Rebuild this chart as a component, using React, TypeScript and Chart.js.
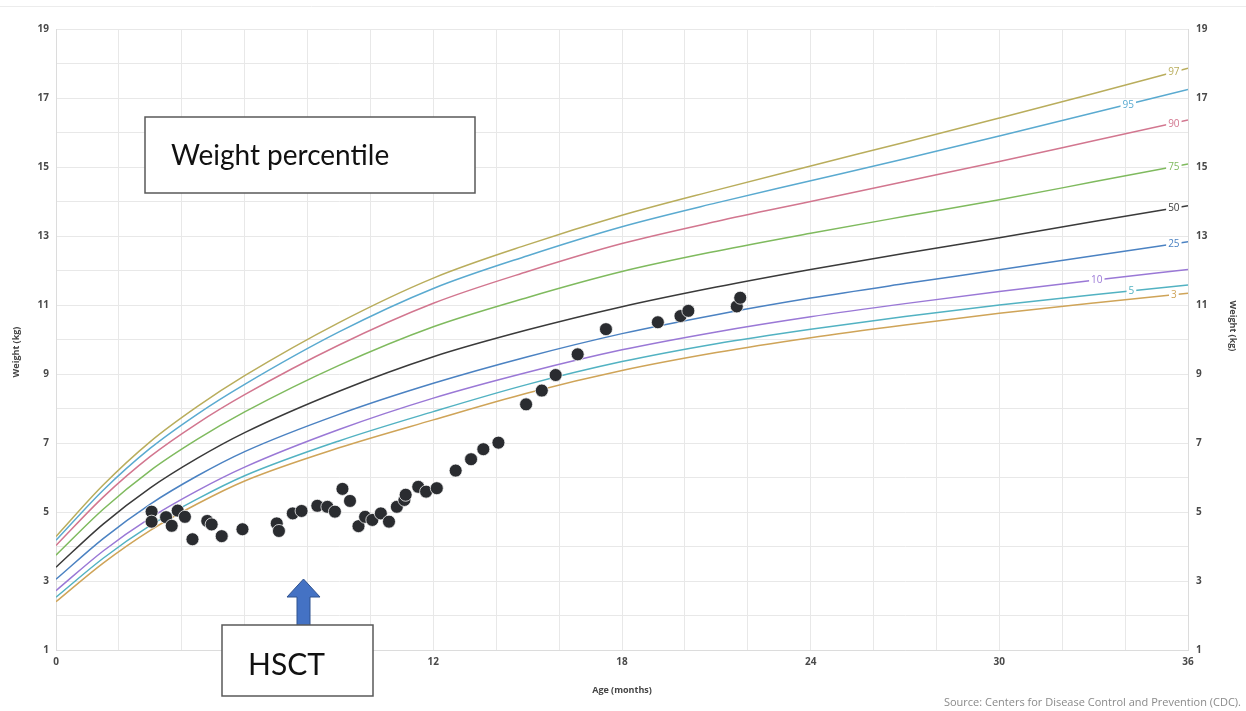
import React, { useEffect, useRef } from "react";
import { Chart, registerables } from "chart.js";

Chart.register(...registerables);

// Age (months) at which percentile curves are given
const ages = [0, 1.5, 3, 4.5, 6, 9, 12, 15, 18, 21, 24, 27, 30, 33, 36];
const p97 = [4.29, 5.78, 7.04, 8.06, 8.95, 10.49, 11.78, 12.75, 13.6, 14.33, 15.03, 15.72, 16.42, 17.13, 17.86];
const p95 = [4.18, 5.63, 6.85, 7.84, 8.7, 10.22, 11.48, 12.43, 13.27, 13.96, 14.6, 15.24, 15.9, 16.57, 17.25];
const p90 = [4.03, 5.43, 6.61, 7.57, 8.4, 9.84, 11.05, 11.97, 12.78, 13.42, 14.0, 14.58, 15.16, 15.76, 16.36];
const p75 = [3.75, 5.08, 6.2, 7.11, 7.9, 9.25, 10.37, 11.22, 11.97, 12.56, 13.08, 13.57, 14.05, 14.57, 15.09];
const p50 = [3.4, 4.65, 5.7, 6.56, 7.3, 8.5, 9.5, 10.28, 10.95, 11.52, 12.03, 12.5, 12.95, 13.42, 13.88];
const p25 = [3.05, 4.23, 5.23, 6.05, 6.75, 7.83, 8.73, 9.5, 10.17, 10.72, 11.2, 11.62, 12.02, 12.43, 12.83];
const p10 = [2.72, 3.87, 4.83, 5.62, 6.3, 7.39, 8.3, 9.05, 9.7, 10.22, 10.66, 11.04, 11.39, 11.72, 12.03];
const p5 = [2.53, 3.66, 4.61, 5.38, 6.05, 7.06, 7.91, 8.7, 9.36, 9.88, 10.3, 10.67, 11.0, 11.3, 11.58];
const p3 = [2.4, 3.52, 4.47, 5.24, 5.9, 6.86, 7.67, 8.45, 9.1, 9.62, 10.05, 10.42, 10.76, 11.06, 11.34];

const percentileNames = ["97", "95", "90", "75", "50", "25", "10", "5", "3"];
const percentileSeries = [p97, p95, p90, p75, p50, p25, p10, p5, p3];
const percentileColors = ["#b9ad5c", "#5aaad0", "#d2768f", "#7fba5e", "#3a3a3a", "#4b82c2", "#9a78d6", "#52b2c2", "#cfa458"];
const labelMonths = [35.55, 34.1, 35.55, 35.55, 35.55, 35.55, 33.1, 34.2, 35.55];

// Patient measurements
const patientAge = [3.04, 3.04, 3.5, 3.68, 3.87, 4.1, 4.34, 4.81, 4.95, 5.27, 5.93, 7.02, 7.09, 7.53, 7.81, 8.31, 8.63, 8.87, 9.11, 9.35, 9.62, 9.83, 10.06, 10.33, 10.59, 10.84, 11.08, 11.12, 11.52, 11.77, 12.11, 12.71, 13.2, 13.59, 14.07, 14.95, 15.45, 15.89, 16.59, 17.49, 19.14, 19.86, 20.11, 21.65, 21.76];
const patientWeight = [5.01, 4.72, 4.85, 4.6, 5.04, 4.86, 4.21, 4.74, 4.64, 4.3, 4.5, 4.67, 4.45, 4.96, 5.03, 5.18, 5.15, 5.01, 5.67, 5.32, 4.59, 4.86, 4.77, 4.96, 4.72, 5.15, 5.35, 5.5, 5.73, 5.59, 5.69, 6.2, 6.53, 6.82, 7.01, 8.12, 8.52, 8.97, 9.57, 10.3, 10.5, 10.68, 10.83, 10.96, 11.21];

const xTickLabels = [0, 6, 12, 18, 24, 30, 36];
const yTickLabels = [1, 3, 5, 7, 9, 11, 13, 15, 17, 19];

function interpAt(series: number[], m: number) {
  for (let i = 0; i < ages.length - 1; i++) {
    if (m >= ages[i] && m <= ages[i + 1]) {
      const t = (m - ages[i]) / (ages[i + 1] - ages[i]);
      return series[i] + t * (series[i + 1] - series[i]);
    }
  }
  return series[series.length - 1];
}

const tickFont = { family: "'Open Sans', sans-serif", size: 10, weight: "bold" as const };
const tickColor = "#4a4a4a";

export default function App() {
  const ref = useRef<HTMLCanvasElement | null>(null);

  useEffect(() => {
    if (!ref.current) return;

    const bgPlugin = {
      id: "bg",
      beforeDraw(chart: any) {
        const c = chart.ctx;
        c.save();
        c.fillStyle = "#ffffff";
        c.fillRect(0, 0, chart.width, chart.height);
        c.strokeStyle = "#ececec";
        c.lineWidth = 1;
        c.beginPath();
        c.moveTo(0, 6.5);
        c.lineTo(chart.width, 6.5);
        c.stroke();
        c.restore();
      },
    };

    const labelPlugin = {
      id: "pctLabels",
      afterDatasetsDraw(chart: any) {
        const c = chart.ctx;
        const xs = chart.scales.x;
        const ys = chart.scales.y;
        c.save();
        c.font = "10px 'Open Sans', sans-serif";
        c.textAlign = "center";
        c.textBaseline = "middle";
        percentileNames.forEach((name, i) => {
          const m = labelMonths[i];
          const v = interpAt(percentileSeries[i], m);
          const px = xs.getPixelForValue(m);
          const py = ys.getPixelForValue(v);
          const w = c.measureText(name).width + 4;
          c.fillStyle = "#ffffff";
          c.fillRect(px - w / 2, py - 5, w, 10);
          c.fillStyle = percentileColors[i];
          c.fillText(name, px, py + 0.5);
        });
        c.restore();
      },
    };

    const annotPlugin = {
      id: "annot",
      afterDraw(chart: any) {
        const c = chart.ctx;
        c.save();
        // Axis titles
        c.fillStyle = "#444";
        c.font = "bold 9px 'Open Sans', sans-serif";
        c.textAlign = "center";
        c.textBaseline = "middle";
        c.save();
        c.translate(16, 352);
        c.rotate(-Math.PI / 2);
        c.fillText("Weight (kg)", 0, 0);
        c.restore();
        c.save();
        c.translate(1233, 326);
        c.rotate(Math.PI / 2);
        c.fillText("Weight (kg)", 0, 0);
        c.restore();
        c.fillText("Age (months)", 622, 690);
        // Source
        c.fillStyle = "#8a8a8a";
        c.font = "11px 'Open Sans', sans-serif";
        c.textAlign = "right";
        c.fillText("Source: Centers for Disease Control and Prevention (CDC).", 1241, 703);

        // Weight percentile box
        c.fillStyle = "#ffffff";
        c.fillRect(145, 117, 330, 76);
        c.strokeStyle = "#595959";
        c.lineWidth = 1.5;
        c.strokeRect(145, 117, 330, 76);
        c.fillStyle = "#111";
        c.font = "28px Lato, sans-serif";
        c.textAlign = "left";
        c.textBaseline = "middle";
        c.fillText("Weight percentile", 171, 156);

        // Blue arrow
        c.fillStyle = "#4472c4";
        c.strokeStyle = "#2f528f";
        c.lineWidth = 1;
        c.beginPath();
        c.moveTo(303.5, 579);
        c.lineTo(320, 597);
        c.lineTo(310, 597);
        c.lineTo(310, 626);
        c.lineTo(297, 626);
        c.lineTo(297, 597);
        c.lineTo(287, 597);
        c.closePath();
        c.fill();
        c.stroke();

        // HSCT box
        c.fillStyle = "#ffffff";
        c.fillRect(222, 625, 151, 71);
        c.strokeStyle = "#595959";
        c.lineWidth = 1.5;
        c.strokeRect(222, 625, 151, 71);
        c.fillStyle = "#111";
        c.font = "30px Lato, sans-serif";
        c.fillText("HSCT", 248, 665);
        c.restore();
      },
    };

    const datasets: any[] = [
      {
        label: "Patient",
        data: patientAge.map((a, i) => ({ x: a, y: patientWeight[i] })),
        showLine: false,
        pointRadius: 6.5,
        pointBackgroundColor: "#2a2c30",
        pointBorderColor: "rgba(255,255,255,0.75)",
        pointBorderWidth: 1,
        order: 0,
      },
      ...percentileNames.map((name, i) => ({
        label: "P" + name,
        data: ages.map((a, j) => ({ x: a, y: percentileSeries[i][j] })),
        borderColor: percentileColors[i],
        borderWidth: 1.5,
        pointRadius: 0,
        fill: false,
        cubicInterpolationMode: "monotone",
        order: 1,
      })),
    ];

    const chart = new Chart(ref.current, {
      type: "line",
      data: { datasets },
      options: {
        animation: false,
        responsive: false,
        maintainAspectRatio: false,
        events: [],
        layout: { padding: { top: 29, left: 0, right: 0, bottom: 0 } },
        plugins: { legend: { display: false }, tooltip: { enabled: false } },
        scales: {
          x: {
            type: "linear",
            min: 0,
            max: 36,
            afterFit: (s: any) => {
              s.height = 61;
            },
            afterBuildTicks: (s: any) => {
              const t = [];
              for (let v = 0; v <= 36; v += 2) t.push({ value: v });
              s.ticks = t;
            },
            ticks: {
              autoSkip: false,
              maxRotation: 0,
              padding: 6,
              font: tickFont,
              color: tickColor,
              callback: (v: any) => (xTickLabels.includes(Number(v)) ? String(v) : ""),
            },
            grid: { color: "#e8e8e8", drawTicks: false },
            border: { color: "#dcdcdc" },
          },
          y: {
            type: "linear",
            position: "left",
            min: 1,
            max: 19,
            afterFit: (s: any) => {
              s.width = 56;
            },
            afterBuildTicks: (s: any) => {
              const t = [];
              for (let v = 1; v <= 19; v += 1) t.push({ value: v });
              s.ticks = t;
            },
            ticks: {
              autoSkip: false,
              padding: 7,
              font: tickFont,
              color: tickColor,
              callback: (v: any) => (yTickLabels.includes(Number(v)) ? String(v) : ""),
            },
            grid: { color: "#e8e8e8", drawTicks: false },
            border: { color: "#dcdcdc" },
          },
          y2: {
            type: "linear",
            position: "right",
            min: 1,
            max: 19,
            afterFit: (s: any) => {
              s.width = 58;
            },
            afterBuildTicks: (s: any) => {
              const t = [];
              for (let v = 1; v <= 19; v += 2) t.push({ value: v });
              s.ticks = t;
            },
            ticks: {
              autoSkip: false,
              padding: 8,
              font: tickFont,
              color: tickColor,
              callback: (v: any) => (yTickLabels.includes(Number(v)) ? String(v) : ""),
            },
            grid: { drawOnChartArea: false, drawTicks: false },
            border: { color: "#dcdcdc" },
          },
        },
      } as any,
      plugins: [bgPlugin, labelPlugin, annotPlugin],
    });

    return () => chart.destroy();
  }, []);

  return (
    <div style={{ position: "absolute", left: 0, top: 0, width: 1246, height: 711, background: "#fff" }}>
      <canvas ref={ref} width={1246} height={711} style={{ width: 1246, height: 711, display: "block" }} />
    </div>
  );
}
